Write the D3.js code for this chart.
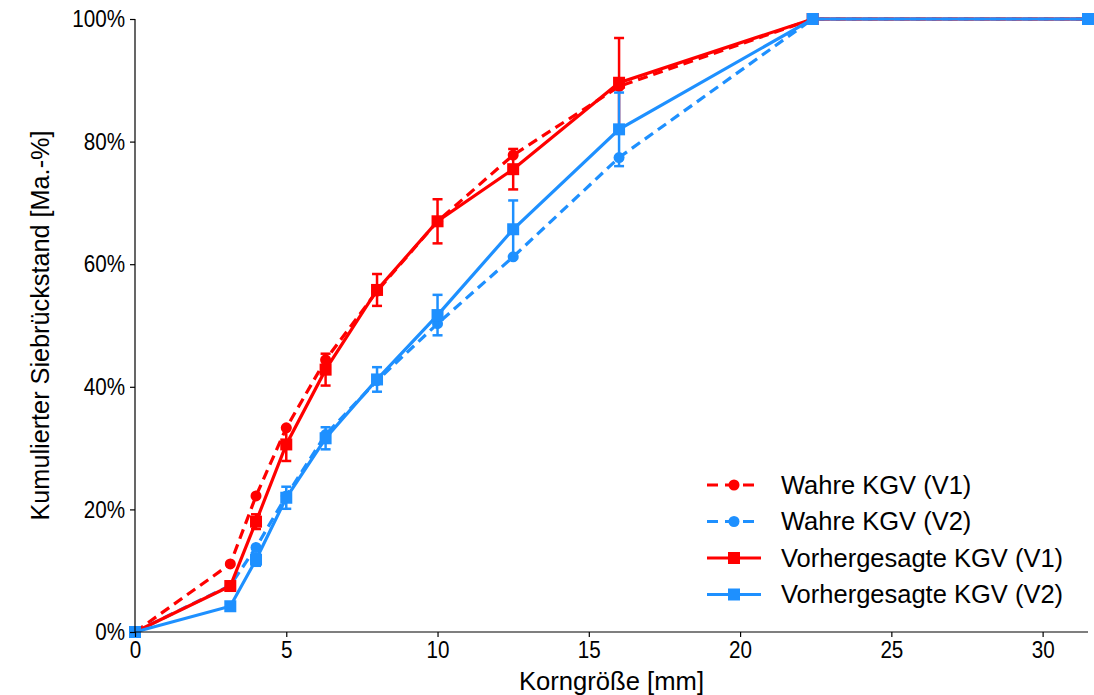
<!DOCTYPE html>
<html><head><meta charset="utf-8">
<script src="https://cdn.jsdelivr.net/npm/d3@7"></script>
<style>body{margin:0;background:#fff;} svg{display:block;} text{font-family:"Liberation Sans",Arial,sans-serif;}</style>
</head><body><svg id="c" width="1094" height="695"></svg>
<script>
const sizes = [0, 3.15, 4, 5, 6.3, 8, 10, 12.5, 16, 22.4, 31.5];
const trueV1 = [0, 11.1, 22.2, 33.3, 44.4, 55.6, 67.0, 77.8, 89.0, 100, 100];
const trueV2 = [0, 7.6, 13.8, 22.2, 32.2, 41.0, 50.3, 61.2, 77.4, 100, 100];
const predV1 = [0, 7.5, 18.0, 30.6, 42.8, 55.8, 67.0, 75.5, 89.6, 100, 100];
const predV1Err = [0, 0.6, 1.2, 2.7, 2.6, 2.6, 3.6, 3.3, 7.3, 0, 0];
const predV2 = [0, 4.2, 11.8, 21.9, 31.6, 41.2, 51.7, 65.7, 82.0, 100, 100];
const predV2Err = [0, 0.4, 1.0, 1.8, 1.8, 2.0, 3.3, 4.7, 6.0, 0, 0];
const xTicks = [0, 5, 10, 15, 20, 25, 30];
const yTicks = [0, 20, 40, 60, 80, 100];
const seriesNames = ["Wahre KGV (V1)", "Wahre KGV (V2)", "Vorhergesagte KGV (V1)", "Vorhergesagte KGV (V2)"];
const RED = "#ff0000", BLUE = "#1e90ff";

const svg = d3.select("#c");
const m = {l:135, r:1088, t:19, b:632};
const x = d3.scaleLinear().domain([0, 31.5]).range([m.l, m.r]);
const y = d3.scaleLinear().domain([0, 100]).range([m.b, m.t]);

const series = [
  {name: seriesNames[0], vals: trueV1, color: RED, dash: "10,6", marker: "circle"},
  {name: seriesNames[1], vals: trueV2, color: BLUE, dash: "10,6", marker: "circle"},
  {name: seriesNames[2], vals: predV1, err: predV1Err, color: RED, dash: null, marker: "square"},
  {name: seriesNames[3], vals: predV2, err: predV2Err, color: BLUE, dash: null, marker: "square"}
];

const line = d3.line().x((d,i)=>x(sizes[i])).y(d=>y(d));
series.forEach(s => {
  const g = svg.append("g");
  g.append("path").attr("d", line(s.vals)).attr("fill","none").attr("stroke", s.color)
   .attr("stroke-width", 3.2).attr("stroke-dasharray", s.dash);
  if (s.err) {
    s.vals.forEach((v,i) => {
      const e = s.err[i]; if (!e) return;
      const cx = x(sizes[i]);
      g.append("line").attr("x1",cx).attr("x2",cx).attr("y1",y(v-e)).attr("y2",y(v+e)).attr("stroke",s.color).attr("stroke-width",2.5);
      [v-e, v+e].forEach(t => g.append("line").attr("x1",cx-5).attr("x2",cx+5).attr("y1",y(t)).attr("y2",y(t)).attr("stroke",s.color).attr("stroke-width",2.5));
    });
  }
  s.vals.forEach((v,i) => {
    if (s.marker === "circle") g.append("circle").attr("cx", x(sizes[i])).attr("cy", y(v)).attr("r", 5.5).attr("fill", s.color);
    else g.append("rect").attr("x", x(sizes[i])-6).attr("y", y(v)-6).attr("width", 12).attr("height", 12).attr("fill", s.color);
  });
});

// axes
const xa = svg.append("g").attr("transform", `translate(0,${m.b})`)
  .call(d3.axisBottom(x).tickValues(xTicks).tickSize(5).tickPadding(4).tickFormat(d3.format("d")));
const ya = svg.append("g").attr("transform", `translate(${m.l},0)`)
  .call(d3.axisLeft(y).tickValues(yTicks).tickSize(5).tickPadding(5).tickFormat(d => d + "%"));
[xa, ya].forEach(a => {
  a.select(".domain").attr("stroke", "#000").attr("stroke-width", 1.2);
  a.selectAll(".tick line").attr("stroke", "#000").attr("stroke-width", 1.2);
  a.selectAll(".tick text").attr("font-size", 24).attr("fill", "#000").style("font-family", '"Liberation Sans",Arial,sans-serif');
});
// slightly condensed tick labels as in the reference
xa.selectAll(".tick text").each(function(){ const w=this.getComputedTextLength(); d3.select(this).attr("textLength", w*0.86).attr("lengthAdjust","spacingAndGlyphs"); });
ya.selectAll(".tick text").each(function(){ const w=this.getComputedTextLength(); d3.select(this).attr("textLength", w*0.86).attr("lengthAdjust","spacingAndGlyphs"); });
xa.select(".domain").attr("d", `M${m.l},0H${m.r}`);
ya.select(".domain").attr("d", `M0,${m.b}V${m.t}`);

svg.append("text").attr("x", (m.l+m.r)/2).attr("y", 690).attr("text-anchor","middle").attr("font-size", 25)
  .attr("textLength", 185).attr("lengthAdjust","spacingAndGlyphs").text("Korngröße [mm]");
svg.append("text").attr("transform", `translate(49,${(m.t+m.b)/2}) rotate(-90)`).attr("text-anchor","middle").attr("font-size", 25)
  .attr("textLength", 390).attr("lengthAdjust","spacingAndGlyphs").text("Kumulierter Siebrückstand [Ma.-%]");

// legend
series.forEach((s, i) => {
  const ly = 485 + i*36.5;
  const g = svg.append("g");
  g.append("line").attr("x1",707).attr("x2",761).attr("y1",ly).attr("y2",ly).attr("stroke",s.color).attr("stroke-width",3.2).attr("stroke-dasharray", s.dash ? "11,7" : null);
  if (s.marker === "circle") g.append("circle").attr("cx",734).attr("cy",ly).attr("r",5.5).attr("fill",s.color);
  else g.append("rect").attr("x",728).attr("y",ly-6).attr("width",12).attr("height",12).attr("fill",s.color);
  g.append("text").attr("x",781).attr("y",ly+8.5).attr("font-size",25.5).attr("fill","#000").text(s.name);
});
</script></body></html>
